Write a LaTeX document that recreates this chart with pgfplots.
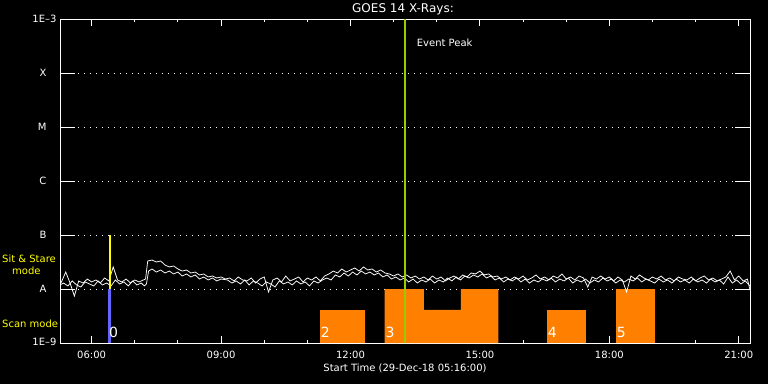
\documentclass[border=0pt]{standalone}
\usepackage{fontspec}
\setmainfont{DejaVu Sans}
\usepackage{pgfplots}
\usepackage{pgfplotstable}
\pgfplotsset{compat=1.18}
\definecolor{barorange}{RGB}{255,128,0}
\definecolor{barblue}{RGB}{100,100,255}
\definecolor{peakgreen}{RGB}{153,204,0}
\definecolor{sityellow}{RGB}{255,255,0}
\newcommand{\fs}{\fontsize{10bp}{12bp}\selectfont}

% GOES long channel (upper trace)
\pgfplotstableread{
t f
5.27 1.24e-8
5.3 1.35e-8
5.4 2.06e-8
5.5 1.29e-8
5.6 0.74e-8
5.7 1.41e-8
5.8 1.29e-8
5.9 1.53e-8
6.0 1.35e-8
6.1 1.47e-8
6.2 1.29e-8
6.3 1.60e-8
6.4 1.41e-8
6.5 2.56e-8
6.6 1.47e-8
6.7 1.35e-8
6.8 1.53e-8
6.9 1.29e-8
7.0 1.47e-8
7.1 1.35e-8
7.2 1.47e-8
7.25 1.53e-8
7.3 3.30e-8
7.4 3.44e-8
7.5 3.16e-8
7.6 3.30e-8
7.7 2.78e-8
7.8 2.56e-8
7.9 2.67e-8
8.0 2.35e-8
8.1 2.15e-8
8.2 2.25e-8
8.3 1.98e-8
8.4 2.06e-8
8.5 1.82e-8
8.6 1.90e-8
8.7 1.67e-8
8.8 1.74e-8
8.9 1.60e-8
9.0 1.67e-8
9.1 1.53e-8
9.2 1.60e-8
9.3 1.41e-8
9.4 1.67e-8
9.5 1.47e-8
9.6 1.41e-8
9.7 1.60e-8
9.8 1.29e-8
9.9 1.53e-8
10.0 1.67e-8
10.1 0.88e-8
10.2 1.47e-8
10.3 1.60e-8
10.4 1.35e-8
10.5 1.74e-8
10.6 1.41e-8
10.7 1.53e-8
10.8 1.67e-8
10.9 1.35e-8
11.0 1.60e-8
11.1 1.47e-8
11.2 1.67e-8
11.3 1.41e-8
11.4 1.74e-8
11.5 1.90e-8
11.6 2.15e-8
11.7 1.98e-8
11.8 2.35e-8
11.9 2.06e-8
12.0 2.25e-8
12.1 2.45e-8
12.2 2.15e-8
12.3 2.56e-8
12.4 2.25e-8
12.5 2.35e-8
12.6 2.06e-8
12.7 2.25e-8
12.8 1.98e-8
12.9 1.90e-8
13.0 1.74e-8
13.1 1.90e-8
13.2 1.67e-8
13.3 1.82e-8
13.4 1.60e-8
13.5 1.74e-8
13.6 1.53e-8
13.7 1.67e-8
13.8 1.47e-8
13.9 1.74e-8
14.0 1.53e-8
14.1 1.67e-8
14.2 1.41e-8
14.3 1.60e-8
14.4 1.74e-8
14.5 1.53e-8
14.6 1.82e-8
14.7 1.67e-8
14.8 1.98e-8
14.9 1.90e-8
15.0 2.15e-8
15.1 1.82e-8
15.2 1.90e-8
15.3 1.67e-8
15.4 1.74e-8
15.5 1.53e-8
15.6 1.67e-8
15.7 1.47e-8
15.8 1.67e-8
15.9 1.53e-8
16.0 1.74e-8
16.1 1.47e-8
16.2 1.60e-8
16.3 1.82e-8
16.4 1.53e-8
16.5 1.67e-8
16.6 1.47e-8
16.7 1.74e-8
16.8 1.60e-8
16.9 1.90e-8
17.0 1.53e-8
17.1 1.67e-8
17.2 1.47e-8
17.3 1.74e-8
17.4 1.60e-8
17.5 1.09e-8
17.6 1.67e-8
17.7 1.53e-8
17.8 1.74e-8
17.9 1.53e-8
18.0 1.67e-8
18.1 1.41e-8
18.2 1.67e-8
18.3 1.47e-8
18.4 0.88e-8
18.5 1.74e-8
18.6 1.53e-8
18.7 1.82e-8
18.8 1.60e-8
18.9 1.47e-8
19.0 1.67e-8
19.1 1.53e-8
19.2 1.74e-8
19.3 1.47e-8
19.4 1.60e-8
19.5 1.41e-8
19.6 1.67e-8
19.7 1.53e-8
19.8 1.47e-8
19.9 1.67e-8
20.0 1.41e-8
20.1 1.60e-8
20.2 1.74e-8
20.3 1.47e-8
20.4 1.60e-8
20.5 1.41e-8
20.6 1.53e-8
20.7 1.67e-8
20.8 2.15e-8
20.9 1.47e-8
21.0 1.74e-8
21.1 1.41e-8
21.2 1.53e-8
21.26 0.96e-8
}\uppertrace

% second trace
\pgfplotstableread{
t f
5.27 1.19e-8
5.35 1.29e-8
5.45 1.14e-8
5.55 1.41e-8
5.65 1.19e-8
5.75 1.09e-8
5.85 1.35e-8
5.95 1.24e-8
6.05 1.14e-8
6.15 1.41e-8
6.25 1.19e-8
6.35 1.29e-8
6.45 1.14e-8
6.55 1.47e-8
6.65 1.24e-8
6.75 1.35e-8
6.85 1.14e-8
6.95 1.41e-8
7.05 1.19e-8
7.15 1.29e-8
7.22 1.14e-8
7.27 1.24e-8
7.32 2.15e-8
7.4 2.35e-8
7.5 2.06e-8
7.6 2.25e-8
7.7 1.98e-8
7.8 2.15e-8
7.9 1.90e-8
8.0 2.06e-8
8.1 1.74e-8
8.2 1.90e-8
8.3 1.67e-8
8.4 1.82e-8
8.5 1.53e-8
8.6 1.67e-8
8.7 1.47e-8
8.8 1.60e-8
8.9 1.41e-8
9.0 1.53e-8
9.15 1.47e-8
9.25 1.29e-8
9.35 1.41e-8
9.45 1.24e-8
9.55 1.47e-8
9.65 1.19e-8
9.75 1.41e-8
9.85 1.29e-8
9.95 1.14e-8
10.05 1.35e-8
10.15 1.24e-8
10.25 1.09e-8
10.35 1.41e-8
10.45 1.24e-8
10.55 1.35e-8
10.65 1.19e-8
10.75 1.41e-8
10.85 1.24e-8
10.95 1.35e-8
11.05 1.14e-8
11.15 1.41e-8
11.25 1.29e-8
11.35 1.47e-8
11.45 1.60e-8
11.55 1.47e-8
11.65 1.82e-8
11.75 1.67e-8
11.85 1.98e-8
11.95 1.74e-8
12.05 2.06e-8
12.15 1.82e-8
12.25 2.15e-8
12.35 1.90e-8
12.45 2.06e-8
12.55 1.82e-8
12.65 1.98e-8
12.75 1.67e-8
12.85 1.82e-8
12.95 1.53e-8
13.05 1.67e-8
13.15 1.47e-8
13.25 1.60e-8
13.35 1.35e-8
13.45 1.53e-8
13.55 1.29e-8
13.65 1.47e-8
13.75 1.35e-8
13.85 1.53e-8
13.95 1.29e-8
14.05 1.47e-8
14.15 1.35e-8
14.25 1.60e-8
14.35 1.41e-8
14.45 1.67e-8
14.55 1.47e-8
14.65 1.74e-8
14.75 1.60e-8
14.85 1.82e-8
14.95 1.67e-8
15.05 1.90e-8
15.15 1.60e-8
15.25 1.74e-8
15.35 1.47e-8
15.45 1.60e-8
15.55 1.35e-8
15.65 1.53e-8
15.75 1.41e-8
15.85 1.60e-8
15.95 1.35e-8
16.05 1.53e-8
16.15 1.29e-8
16.25 1.47e-8
16.35 1.35e-8
16.45 1.53e-8
16.55 1.41e-8
16.65 1.60e-8
16.75 1.35e-8
16.85 1.53e-8
16.95 1.41e-8
17.05 1.60e-8
17.15 1.29e-8
17.25 1.47e-8
17.35 1.35e-8
17.45 1.53e-8
17.55 1.29e-8
17.65 1.47e-8
17.75 1.35e-8
17.85 1.60e-8
17.95 1.41e-8
18.05 1.53e-8
18.15 1.29e-8
18.25 1.47e-8
18.35 1.35e-8
18.45 1.53e-8
18.55 1.41e-8
18.65 1.60e-8
18.75 1.35e-8
18.85 1.53e-8
18.95 1.41e-8
19.05 1.29e-8
19.15 1.53e-8
19.25 1.35e-8
19.35 1.47e-8
19.45 1.29e-8
19.55 1.53e-8
19.65 1.35e-8
19.75 1.47e-8
19.85 1.29e-8
19.95 1.53e-8
20.05 1.35e-8
20.15 1.47e-8
20.25 1.29e-8
20.35 1.53e-8
20.45 1.35e-8
20.55 1.47e-8
20.65 1.24e-8
20.75 1.67e-8
20.85 1.29e-8
20.95 1.47e-8
21.05 1.24e-8
21.15 1.41e-8
21.26 1.14e-8
}\lowertrace

\begin{document}
\begin{tikzpicture}
\fill[black] (0,0) rectangle (768bp,384bp);
\begin{axis}[
  at={(60bp,41bp)}, anchor=south west,
  scale only axis, width=690bp, height=324bp,
  xmin=5.2667, xmax=21.26,
  ymode=log, ymin=1e-9, ymax=1e-3,
  axis line style={white, line width=1bp},
  xtick={6,9,12,15,18,21},
  xticklabels={06:00,09:00,12:00,15:00,18:00,21:00},
  minor xtick={7,8,10,11,13,14,16,17,19,20},
  tick align=inside,
  major tick length=7bp, minor tick length=3.5bp,
  xtick pos=both, xticklabel pos=bottom,
  every tick/.style={white, line width=1bp},
  ytick={1e-9,1e-8,1e-7,1e-6,1e-5,1e-4,1e-3},
  yticklabels={\raisebox{3bp}{1E--9},A\hspace*{10bp},B\hspace*{10bp},C\hspace*{10bp},M\hspace*{10bp},X\hspace*{10bp},\raisebox{-4bp}{1E--3}},
  yminorticks=false,
  ytick style={draw=none},
  ymajorgrids,
  major grid style={white, line width=1bp, dash pattern=on 1bp off 5bp},
  tick label style={text=white, font=\fs},
  xticklabel style={anchor=center, yshift=-12bp},
  /pgf/number format/assume math mode=true,
  xlabel={Start Time (29-Dec-18 05:16:00)},
  xlabel style={at={(0.5,0)}, anchor=center, yshift=-25bp, text=white, font=\fs},
]
% scan-mode rasters
\addplot[fill=barblue, draw=none] coordinates {(6.378,1e-9) (6.378,1e-8) (6.44,1e-8) (6.44,1e-9)} -- cycle;
\addplot[fill=barorange, draw=none] coordinates {(11.286,1e-9) (11.286,4.1e-9) (12.33,4.1e-9) (12.33,1e-9)} -- cycle;
\addplot[fill=barorange, draw=none] coordinates {(12.79,1e-9) (12.79,1e-8) (13.70,1e-8) (13.70,4.1e-9) (14.56,4.1e-9) (14.56,1e-8) (15.43,1e-8) (15.43,1e-9)} -- cycle;
\addplot[fill=barorange, draw=none] coordinates {(16.55,1e-9) (16.55,4.1e-9) (17.46,4.1e-9) (17.46,1e-9)} -- cycle;
\addplot[fill=barorange, draw=none] coordinates {(18.15,1e-9) (18.15,1e-8) (19.05,1e-8) (19.05,1e-9)} -- cycle;
% X-ray traces
\addplot[white, line width=0.75bp] table[x=t, y=f] {\lowertrace};
\addplot[white, line width=0.75bp] table[x=t, y=f] {\uppertrace};
% event peak and sit & stare markers
\addplot[peakgreen, line width=2bp] coordinates {(13.27,1e-9) (13.27,1e-3)};
\addplot[sityellow, line width=1.3bp] coordinates {(6.424,1e-8) (6.424,1e-7)};
% y ticks (long, both sides)
\pgfplotsinvokeforeach{1e-8,1e-7,1e-6,1e-5,1e-4}{
  \draw[white, line width=1bp] (axis cs:5.2667,#1) -- (axis cs:5.615,#1);
  \draw[white, line width=1bp] (axis cs:20.912,#1) -- (axis cs:21.26,#1);
}
% raster labels
\node[anchor=base west, inner sep=0, text=white, font=\fontsize{14bp}{14bp}\selectfont] at (axis cs:6.40,1.24e-9) {0};
\node[anchor=base west, inner sep=0, text=white, font=\fontsize{14bp}{14bp}\selectfont] at (axis cs:11.31,1.24e-9) {2};
\node[anchor=base west, inner sep=0, text=white, font=\fontsize{14bp}{14bp}\selectfont] at (axis cs:12.81,1.24e-9) {3};
\node[anchor=base west, inner sep=0, text=white, font=\fontsize{14bp}{14bp}\selectfont] at (axis cs:16.57,1.24e-9) {4};
\node[anchor=base west, inner sep=0, text=white, font=\fontsize{14bp}{14bp}\selectfont] at (axis cs:18.17,1.24e-9) {5};
\end{axis}
\node[anchor=center, inner sep=0, text=white, font=\fontsize{12bp}{14bp}\selectfont] at (403bp,375bp) {GOES 14 X-Rays:};
\node[anchor=west, inner sep=0, text=white, font=\fs] at (416.7bp,341bp) {Event Peak};
\node[anchor=west, inner sep=0, text=sityellow, font=\fs] at (2bp,125bp) {Sit \& Stare};
\node[anchor=west, inner sep=0, text=sityellow, font=\fs] at (12bp,113bp) {mode};
\node[anchor=west, inner sep=0, text=sityellow, font=\fs] at (2bp,60bp) {Scan mode};
\pgfresetboundingbox
\useasboundingbox (0,0) rectangle (768bp,384bp);
\end{tikzpicture}
\end{document}
